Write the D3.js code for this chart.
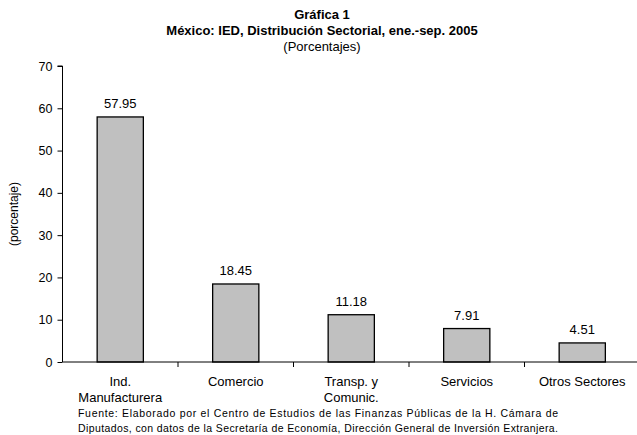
<!DOCTYPE html>
<html>
<head>
<meta charset="utf-8">
<script src="https://cdn.jsdelivr.net/npm/d3@7"></script>
<style>
  body { margin: 0; background: #fff; }
  text { font-family: "Liberation Sans", Arial, sans-serif; fill: #000; }
</style>
</head>
<body>
<svg id="chart"></svg>
<script>
const outerWidth = 637;
const outerHeight = 435;

// data
const sectores = [["Ind.", "Manufacturera"], ["Comercio"], ["Transp. y", "Comunic."], ["Servicios"], ["Otros Sectores"]];
const valores = [57.95, 18.45, 11.18, 7.91, 4.51];
const yTicks = [0, 10, 20, 30, 40, 50, 60, 70];
const titulo = ["Gráfica 1", "México: IED, Distribución Sectorial, ene.-sep. 2005", "(Porcentajes)"];
const fuente = ["Fuente: Elaborado por el Centro de Estudios de las Finanzas Públicas de la H. Cámara de",
  "Diputados, con datos de la Secretaría de Economía, Dirección General de Inversión Extranjera."];

const svg = d3.select("#chart")
  .attr("width", outerWidth)
  .attr("height", outerHeight);

var x = d3.scaleBand()
  .domain(d3.range(valores.length))
  .range([62.5, 640])
  .paddingInner(0.6)
  .paddingOuter(0.3);

var y = d3.scaleLinear().domain([0, 70]).range([362, 66]);

// title
svg.selectAll(".titulo")
  .data(titulo)
  .enter()
  .append("text")
  .attr("x", 322)
  .attr("y", (d, i) => 19 + i * 16)
  .attr("text-anchor", "middle")
  .style("font-size", "13px")
  .style("font-weight", (d, i) => i < 2 ? "bold" : "normal")
  .text(d => d);

// y axis
var yAxis = svg.append("g")
  .attr("transform", "translate(62.5,0)")
  .call(d3.axisLeft(y).tickValues(yTicks).tickSize(5).tickPadding(5));
yAxis.select(".domain").attr("d", "M-5," + y(70) + "H0V" + y(0));
yAxis.selectAll("text").style("font-size", "12.5px").attr("font-family", null);

svg.append("text")
  .attr("transform", "translate(18," + y(35) + ") rotate(-90)")
  .attr("text-anchor", "middle")
  .style("font-size", "12px")
  .text("(porcentaje)");

// bars
svg.append("g").selectAll("rect")
  .data(valores)
  .enter()
  .append("rect")
  .attr("x", (d, i) => x(i))
  .attr("width", x.bandwidth())
  .attr("y", d => y(d))
  .attr("height", d => y(0) - y(d))
  .style("fill", "#c0c0c0")
  .style("stroke", "black")
  .style("stroke-width", 1.3);

svg.append("g").selectAll("text")
  .data(valores)
  .enter()
  .append("text")
  .attr("x", (d, i) => x(i) + x.bandwidth() / 2)
  .attr("y", d => y(d) - 9)
  .attr("text-anchor", "middle")
  .style("font-size", "13px")
  .text(d => d.toFixed(2));

// x axis
var step = x.step();
svg.append("line")
  .attr("x1", 62.5).attr("x2", 640)
  .attr("y1", y(0)).attr("y2", y(0))
  .style("stroke", "black");
svg.append("g").selectAll("line")
  .data(d3.range(1, valores.length))
  .enter()
  .append("line")
  .attr("x1", d => 62.5 + d * step).attr("x2", d => 62.5 + d * step)
  .attr("y1", y(0)).attr("y2", y(0) + 5)
  .style("stroke", "black");

var xl = svg.append("g").selectAll("text")
  .data(sectores)
  .enter()
  .append("text")
  .attr("x", (d, i) => x(i) + x.bandwidth() / 2)
  .attr("y", 386)
  .attr("text-anchor", "middle")
  .style("font-size", "13px");
xl.selectAll("tspan")
  .data(d => d)
  .enter()
  .append("tspan")
  .attr("x", function () { return d3.select(this.parentNode).attr("x"); })
  .attr("dy", (d, i) => i === 0 ? 0 : 16)
  .text(d => d);

// source
svg.selectAll(".fuente")
  .data(fuente)
  .enter()
  .append("text")
  .attr("x", 78)
  .attr("y", (d, i) => 417 + i * 14.5)
  .attr("textLength", 480)
  .attr("lengthAdjust", "spacing")
  .style("font-size", "10.5px")
  .text(d => d);
</script>
</body>
</html>
